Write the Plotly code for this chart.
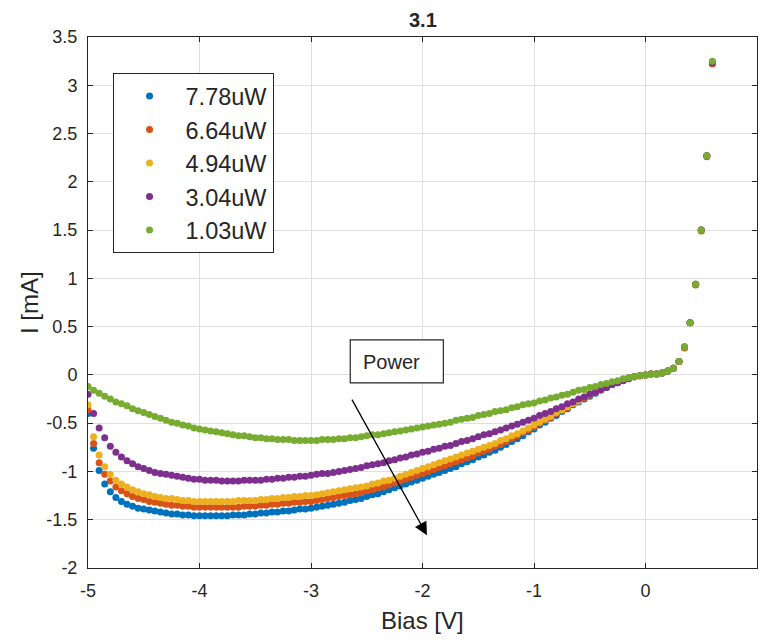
import plotly.graph_objects as go

# Bias sweep in volts (0.05 V steps)
bias = [
    -5.00, -4.95, -4.90, -4.85, -4.80, -4.75, -4.70, -4.65, -4.60, -4.55,
    -4.50, -4.45, -4.40, -4.35, -4.30, -4.25, -4.20, -4.15, -4.10, -4.05,
    -4.00, -3.95, -3.90, -3.85, -3.80, -3.75, -3.70, -3.65, -3.60, -3.55,
    -3.50, -3.45, -3.40, -3.35, -3.30, -3.25, -3.20, -3.15, -3.10, -3.05,
    -3.00, -2.95, -2.90, -2.85, -2.80, -2.75, -2.70, -2.65, -2.60, -2.55,
    -2.50, -2.45, -2.40, -2.35, -2.30, -2.25, -2.20, -2.15, -2.10, -2.05,
    -2.00, -1.95, -1.90, -1.85, -1.80, -1.75, -1.70, -1.65, -1.60, -1.55,
    -1.50, -1.45, -1.40, -1.35, -1.30, -1.25, -1.20, -1.15, -1.10, -1.05,
    -1.00, -0.95, -0.90, -0.85, -0.80, -0.75, -0.70, -0.65, -0.60, -0.55,
    -0.50, -0.45, -0.40, -0.35, -0.30, -0.25, -0.20, -0.15, -0.10, -0.05,
    0.00, 0.05, 0.10, 0.15, 0.20, 0.25, 0.30, 0.35, 0.40, 0.45,
    0.50, 0.55, 0.60,
]

# Photocurrent in mA for each optical power
i_778 = [
    -0.40, -0.76, -0.99, -1.13, -1.21, -1.27, -1.31, -1.34, -1.36, -1.38,
    -1.39, -1.40, -1.41, -1.42, -1.43, -1.44, -1.44, -1.45, -1.45, -1.46,
    -1.46, -1.46, -1.46, -1.46, -1.46, -1.46, -1.45, -1.45, -1.45, -1.44,
    -1.44, -1.43, -1.43, -1.42, -1.42, -1.41, -1.41, -1.40, -1.39, -1.39,
    -1.38, -1.37, -1.36, -1.35, -1.34, -1.33, -1.32, -1.30, -1.29, -1.28,
    -1.26, -1.24, -1.23, -1.21, -1.19, -1.17, -1.15, -1.13, -1.11, -1.09,
    -1.07, -1.05, -1.03, -1.01, -0.99, -0.97, -0.95, -0.92, -0.90, -0.88,
    -0.85, -0.83, -0.80, -0.78, -0.75, -0.72, -0.69, -0.66, -0.63, -0.59,
    -0.56, -0.52, -0.49, -0.45, -0.42, -0.38, -0.35, -0.31, -0.28, -0.25,
    -0.22, -0.19, -0.16, -0.13, -0.10, -0.08, -0.05, -0.03, -0.02, -0.01,
    0.00, 0.01, 0.01, 0.02, 0.04, 0.07, 0.14, 0.29, 0.54, 0.94,
    1.50, 2.27, 3.24,
]
i_664 = [
    -0.36, -0.71, -0.91, -1.03, -1.10, -1.16, -1.20, -1.23, -1.26, -1.28,
    -1.29, -1.31, -1.32, -1.33, -1.34, -1.35, -1.35, -1.36, -1.36, -1.37,
    -1.37, -1.37, -1.37, -1.37, -1.37, -1.37, -1.37, -1.37, -1.36, -1.36,
    -1.36, -1.35, -1.35, -1.34, -1.34, -1.33, -1.33, -1.32, -1.32, -1.31,
    -1.31, -1.30, -1.29, -1.28, -1.27, -1.26, -1.25, -1.24, -1.23, -1.22,
    -1.20, -1.19, -1.17, -1.16, -1.14, -1.12, -1.10, -1.08, -1.06, -1.04,
    -1.02, -1.00, -0.98, -0.96, -0.94, -0.92, -0.90, -0.88, -0.86, -0.84,
    -0.81, -0.79, -0.77, -0.74, -0.72, -0.69, -0.66, -0.63, -0.60, -0.57,
    -0.54, -0.50, -0.47, -0.44, -0.40, -0.37, -0.34, -0.30, -0.27, -0.24,
    -0.21, -0.18, -0.15, -0.12, -0.10, -0.07, -0.05, -0.03, -0.02, -0.01,
    0.00, 0.01, 0.01, 0.02, 0.04, 0.07, 0.14, 0.28, 0.54, 0.93,
    1.49, 2.26, 3.22,
]
i_494 = [
    -0.31, -0.64, -0.83, -0.95, -1.03, -1.09, -1.13, -1.16, -1.19, -1.21,
    -1.23, -1.24, -1.26, -1.27, -1.28, -1.28, -1.29, -1.30, -1.30, -1.31,
    -1.31, -1.31, -1.31, -1.31, -1.31, -1.31, -1.31, -1.30, -1.30, -1.30,
    -1.30, -1.29, -1.29, -1.28, -1.28, -1.27, -1.27, -1.26, -1.26, -1.25,
    -1.25, -1.24, -1.23, -1.22, -1.21, -1.20, -1.19, -1.18, -1.17, -1.16,
    -1.15, -1.13, -1.12, -1.10, -1.09, -1.07, -1.05, -1.03, -1.01, -0.99,
    -0.97, -0.95, -0.93, -0.91, -0.89, -0.87, -0.85, -0.83, -0.81, -0.79,
    -0.77, -0.75, -0.73, -0.71, -0.68, -0.66, -0.63, -0.61, -0.58, -0.55,
    -0.52, -0.49, -0.46, -0.43, -0.39, -0.36, -0.33, -0.30, -0.27, -0.23,
    -0.20, -0.17, -0.15, -0.12, -0.09, -0.07, -0.05, -0.03, -0.02, -0.01,
    0.00, 0.01, 0.01, 0.02, 0.04, 0.07, 0.14, 0.29, 0.54, 0.94,
    1.50, 2.27, 3.23,
]
i_304 = [
    -0.20, -0.40, -0.55, -0.65, -0.74, -0.80, -0.85, -0.89, -0.92, -0.95,
    -0.97, -0.99, -1.01, -1.02, -1.03, -1.04, -1.05, -1.06, -1.07, -1.08,
    -1.08, -1.09, -1.09, -1.09, -1.10, -1.10, -1.10, -1.10, -1.09, -1.09,
    -1.09, -1.09, -1.08, -1.08, -1.07, -1.07, -1.06, -1.06, -1.05, -1.05,
    -1.04, -1.03, -1.02, -1.02, -1.01, -1.00, -0.99, -0.98, -0.97, -0.96,
    -0.94, -0.93, -0.92, -0.91, -0.89, -0.88, -0.86, -0.85, -0.83, -0.82,
    -0.80, -0.79, -0.77, -0.76, -0.74, -0.73, -0.71, -0.69, -0.68, -0.66,
    -0.64, -0.62, -0.61, -0.59, -0.57, -0.55, -0.53, -0.51, -0.49, -0.47,
    -0.45, -0.42, -0.40, -0.38, -0.35, -0.33, -0.30, -0.28, -0.25, -0.23,
    -0.20, -0.18, -0.15, -0.13, -0.10, -0.08, -0.06, -0.04, -0.02, -0.01,
    0.00, 0.01, 0.01, 0.02, 0.04, 0.07, 0.14, 0.29, 0.54, 0.94,
    1.50, 2.27, 3.23,
]
i_103 = [
    -0.12, -0.16, -0.19, -0.22, -0.25, -0.28, -0.30, -0.32, -0.35, -0.37,
    -0.39, -0.41, -0.43, -0.45, -0.47, -0.49, -0.50, -0.52, -0.53, -0.55,
    -0.56, -0.57, -0.58, -0.59, -0.60, -0.61, -0.62, -0.63, -0.63, -0.64,
    -0.65, -0.65, -0.66, -0.66, -0.67, -0.67, -0.67, -0.68, -0.68, -0.68,
    -0.68, -0.68, -0.67, -0.67, -0.67, -0.66, -0.66, -0.65, -0.65, -0.64,
    -0.63, -0.62, -0.62, -0.61, -0.60, -0.59, -0.58, -0.57, -0.56, -0.55,
    -0.54, -0.53, -0.52, -0.51, -0.50, -0.49, -0.47, -0.46, -0.45, -0.44,
    -0.42, -0.41, -0.40, -0.38, -0.37, -0.36, -0.34, -0.33, -0.31, -0.30,
    -0.29, -0.27, -0.26, -0.24, -0.23, -0.21, -0.20, -0.18, -0.16, -0.15,
    -0.13, -0.12, -0.10, -0.09, -0.07, -0.06, -0.04, -0.03, -0.02, -0.01,
    0.00, 0.01, 0.01, 0.02, 0.04, 0.07, 0.14, 0.29, 0.54, 0.94,
    1.50, 2.27, 3.25,
]

series_names = ["7.78uW", "6.64uW", "4.94uW", "3.04uW", "1.03uW"]
series_values = [i_778, i_664, i_494, i_304, i_103]
series_colors = ["#0072BD", "#D95319", "#EDB120", "#7E2F8E", "#77AC30"]

x_ticks = [-5, -4, -3, -2, -1, 0, 1]
x_tick_labels = ["-5", "-4", "-3", "-2", "-1", "0", "1"]
y_ticks = [-2, -1.5, -1, -0.5, 0, 0.5, 1, 1.5, 2, 2.5, 3, 3.5]
y_tick_labels = ["-2", "-1.5", "-1", "-0.5", "0", "0.5", "1", "1.5", "2", "2.5", "3", "3.5"]

FONT = "Liberation Sans, Arial, Helvetica, sans-serif"
INK = "#262626"
GRID = "#dfdfdf"

fig = go.Figure()
for k, (name, vals, col) in enumerate(zip(series_names, series_values, series_colors)):
    assert len(vals) == len(bias)
    fig.add_trace(go.Scatter(
        x=bias, y=vals, mode="markers", name=name,
        legendgroup=f"g{k}",
        marker=dict(color=col, size=7, line=dict(width=0)),
    ))

axis_common = dict(
    showline=True, linecolor=INK, linewidth=1, mirror="ticks",
    ticks="inside", ticklen=5, tickcolor=INK, tickwidth=1,
    showgrid=True, gridcolor=GRID, gridwidth=1, zeroline=False,
    tickfont=dict(family=FONT, size=18, color=INK),
)

fig.update_layout(
    width=760, height=641,
    margin=dict(l=88, r=3, t=37, b=73, autoexpand=False),
    paper_bgcolor="white", plot_bgcolor="white",
    font=dict(family=FONT, color=INK),
    xaxis=dict(range=[-5, 1], tickvals=x_ticks, ticktext=x_tick_labels,
               ticklabelstandoff=6, **axis_common),
    yaxis=dict(range=[-2, 3.5], tickvals=y_ticks, ticktext=y_tick_labels,
               ticklabelstandoff=6, **axis_common),
    legend=dict(
        x=0.0367, y=0.932, xanchor="left", yanchor="top",
        bgcolor="white", bordercolor=INK, borderwidth=1,
        font=dict(family=FONT, size=23.5, color=INK),
        itemwidth=62, tracegroupgap=0,
    ),
    showlegend=True,
)

# Title and axis labels
fig.add_annotation(text="<b>3.1</b>", x=0.5, y=1.032, xref="paper", yref="paper",
                   xanchor="center", yanchor="middle", showarrow=False,
                   font=dict(family=FONT, size=20, color=INK))
fig.add_annotation(text="Bias [V]", x=0.5, y=-0.098, xref="paper", yref="paper",
                   xanchor="center", yanchor="middle", showarrow=False,
                   font=dict(family=FONT, size=24, color=INK))
fig.add_annotation(text="I [mA]", x=-0.0875, y=0.5, xref="paper", yref="paper",
                   xanchor="center", yanchor="middle", textangle=-90,
                   showarrow=False, font=dict(family=FONT, size=24, color=INK))

# "Power" text box and arrow
fig.add_shape(type="rect", x0=-2.648, x1=-1.813, y0=-0.083, y1=0.363,
              xref="x", yref="y", line=dict(color=INK, width=1.2),
              fillcolor="white", layer="above")
fig.add_annotation(text="Power", x=-2.549, y=0.135, xref="x", yref="y",
                   xanchor="left", yanchor="middle", showarrow=False,
                   font=dict(family=FONT, size=20, color=INK))
fig.add_annotation(x=-1.96, y=-1.66, ax=-2.64, ay=-0.24,
                   xref="x", yref="y", axref="x", ayref="y",
                   showarrow=True, arrowhead=2, arrowsize=2, arrowwidth=1.3,
                   arrowcolor="black", text="")

fig.write_html("out.html")
